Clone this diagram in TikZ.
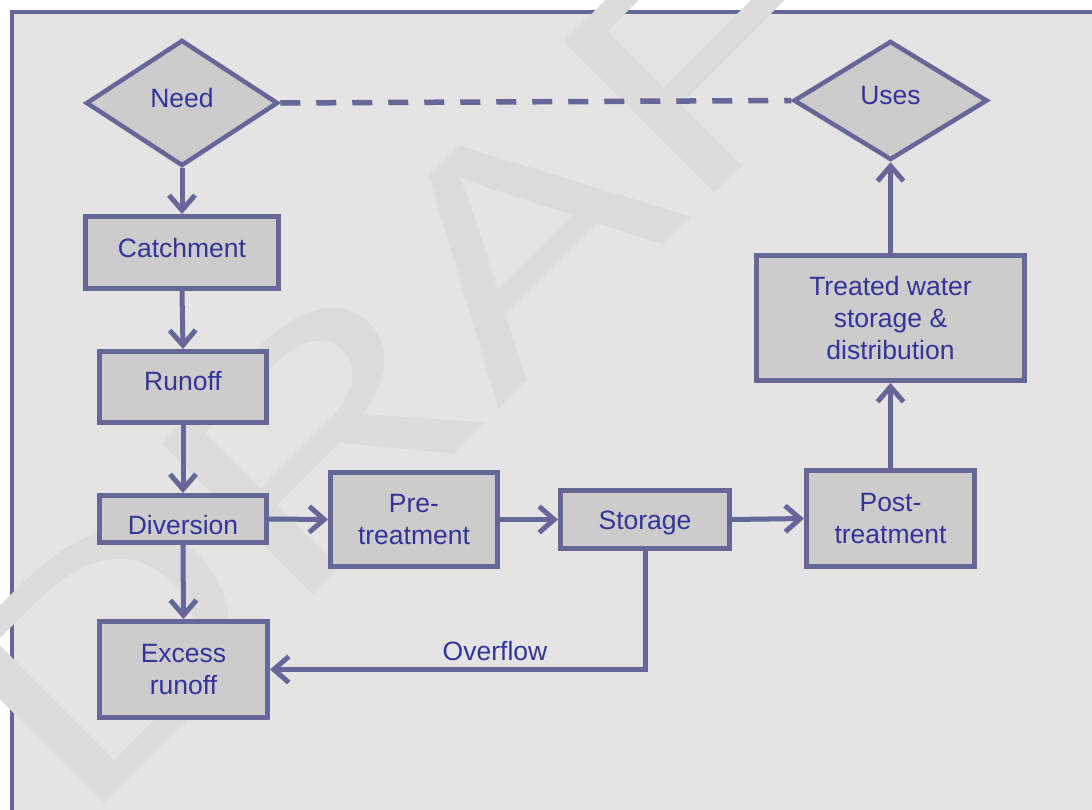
\documentclass[tikz,border=0pt]{standalone}
\usepackage{fontspec}
\setmainfont{Liberation Sans}
\newfontfamily\wmfont[FakeStretch=1.32]{Liberation Sans}
\usetikzlibrary{arrows.meta,shapes.geometric}
\definecolor{frame}{HTML}{666699}
\definecolor{ink}{HTML}{333399}
\definecolor{boxfill}{HTML}{CCCCCC}
\definecolor{paper}{HTML}{E4E4E4}
\definecolor{wm}{HTML}{DCDCDC}

\begin{document}
\begin{tikzpicture}[x=1pt,y=-1pt,
  every node/.style={font=\fontsize{26.5}{32}\selectfont, text=ink},
  stepbox/.style={draw=frame, fill=boxfill, line width=5pt, rectangle, align=center, inner sep=0pt},
  decision/.style={draw=frame, fill=boxfill, line width=4.5pt, diamond, inner sep=0pt},
  flow/.style={draw=frame, line width=5pt, -{Straight Barb[length=15pt,width=26pt]}},
]
\useasboundingbox (0,0) rectangle (1092,809);
\fill[white] (0,0) rectangle (1092,809);
% page frame, running off the right and bottom edges
\draw[frame, line width=4.5pt, fill=paper] (12,12) rectangle (1110,830);

% watermark, stretched and laid along the diagonal
\node[rotate=45, anchor=base, text=wm, font=\wmfont\fontsize{310}{310}\selectfont] (wmark) at (563,345) {DRAFT};

% decisions
\node[decision, minimum width=192pt, minimum height=126pt, text depth=10pt] (need) at (182,103) {Need};
\node[decision, minimum width=194pt, minimum height=119pt, text depth=10pt] (uses) at (890.5,100.5) {Uses};

% process steps
\node[stepbox, minimum width=193pt, minimum height=72pt, text depth=10pt] (catch) at (182,252.5) {Catchment};
\node[stepbox, minimum width=167pt, minimum height=71pt, text depth=12pt] (runoff) at (183,387) {Runoff};
\node[stepbox, minimum width=167pt, minimum height=47pt, text height=31pt, text depth=0pt] (div) at (183,519) {Diversion};
\node[stepbox, minimum width=168pt, minimum height=96pt] (excess) at (183.5,669.5) {Excess\\runoff};
\node[stepbox, minimum width=167pt, minimum height=94pt] (pre) at (414,519.5) {Pre-\\treatment};
\node[stepbox, minimum width=169pt, minimum height=58pt, text height=19pt, text depth=0pt] (store) at (645,519.5) {Storage};
\node[stepbox, minimum width=168pt, minimum height=96pt] (post) at (890.5,518.5) {Post-\\treatment};
\node[stepbox, minimum width=268pt, minimum height=125pt] (treat) at (890.5,318) {Treated water\\storage \&\\distribution};

% connectors
\draw[frame, line width=5.5pt, dash pattern=on 20pt off 16pt] (need.east) -- (uses.west);
\draw[flow] (need.south) -- (catch.north);
\draw[flow] (catch.south) -- (runoff.north);
\draw[flow] (runoff.south) -- (div.north);
\draw[flow] (div.south) -- (excess.north);
\draw[flow] (div.east) -- (pre.west);
\draw[flow] (pre.east) -- (store.west);
\draw[flow] (store.east) -- (post.west);
\draw[flow] (post.north) -- (treat.south);
\draw[flow] (treat.north) -- (uses.south);
\draw[flow] (store.south) |- node[pos=0.7, above=3pt] (ovl) {Overflow} (excess.east);
\end{tikzpicture}
\end{document}
